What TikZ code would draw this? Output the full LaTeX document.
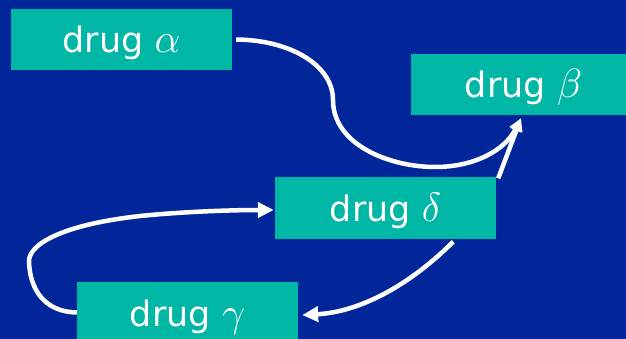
\RequirePackage{fix-cm}
\documentclass[tikz,border=0pt]{standalone}
\usepackage{fontspec}
\setmainfont{DejaVu Sans}
\usetikzlibrary{arrows.meta}
\definecolor{bgblue}{RGB}{0,38,153}
\definecolor{teal1}{RGB}{0,183,166}
\newcommand{\grk}[1]{{\fontsize{41}{44}\selectfont$#1$}}
\begin{document}
\begin{tikzpicture}[x=1pt,y=-1pt,
  drugbox/.style={fill=teal1, text=white, inner sep=0pt, minimum width=221pt,
    minimum height=61pt, text height=30pt, text depth=3pt, font=\fontsize{35}{40}\selectfont},
  conn/.style={draw=white, line width=4.5pt, -{Triangle[length=16pt,width=15pt]}},
  connb/.style={draw=white, line width=4.5pt, -{Triangle[length=13pt,width=12pt]}}]
\useasboundingbox (0,0) rectangle (626,339);
\clip (0,0) rectangle (626,339);
\fill[bgblue] (0,0) rectangle (626,339);
\node[drugbox] (a) at (121.5,39.5) {drug \grk{\alpha}};
\node[drugbox, minimum width=225pt] (b) at (523.5,84.5) {drug \grk{\beta}};
\node[drugbox] (d) at (385.5,208) {drug \grk{\delta}};
\node[drugbox] (g) at (187.5,312.5) {drug \grk{\gamma}};
\path[connb] ([xshift=4pt]a.east) .. controls (290,40) and (333,65) .. (333,100)
  .. controls (333,145) and (390,167) .. (435,167)
  .. controls (475,167) and (505,150) .. ([shift={(-2.5pt,-3pt)}]b.south);
\path[connb] ([shift={(2pt,-1pt)}]d.north east) -- ([shift={(-2.5pt,-3pt)}]b.south);
\path[conn] ([shift={(-43pt,-3pt)}]d.south east) .. controls (410,285) and (360,312) .. ([shift={(4pt,-2.5pt)}]g.east);
\path[conn] (g.west) .. controls (45,312) and (30,290) .. (29,262)
  .. controls (28,245) and (60,225) .. (140,216)
  .. controls (190,211) and (240,210) .. ([shift={(-1pt,-2pt)}]d.west);
\end{tikzpicture}
\end{document}
